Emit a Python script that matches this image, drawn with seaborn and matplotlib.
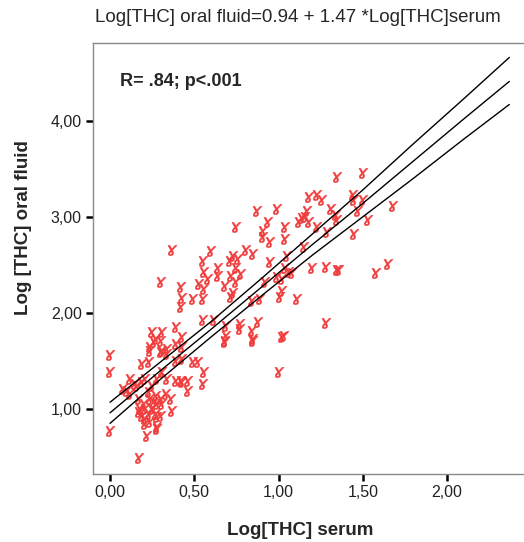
import numpy as np
import pandas as pd
import matplotlib
matplotlib.use('Agg')
import matplotlib.pyplot as plt
import seaborn as sns

# Valores (log THC serum vs log THC oral fluid)
serum = [0.00, 0.00, 0.00,
         0.17, 0.22, 0.28, 0.30, 0.37, 0.08, 0.12, 0.16, 0.19, 0.21, 0.19, 0.23,
         0.24, 0.25, 0.30, 0.31, 0.34, 0.39, 0.39, 0.43, 0.43, 0.49, 0.52, 0.56,
         0.55, 0.46, 0.43, 0.46, 0.42, 0.39, 0.34, 0.31, 0.28, 0.25, 0.23, 0.27,
         0.30, 0.28, 0.31, 0.26, 0.18, 0.19, 0.21, 0.23, 0.17, 0.21, 0.24, 0.28,
         0.28, 0.12, 0.10, 0.17, 0.68, 0.69, 0.77, 0.85, 1.02, 1.00, 0.26, 0.30,
         0.34, 0.24, 0.27, 0.21, 0.25, 0.33, 0.36, 0.24, 0.20, 0.27, 0.15,
         0.37, 0.60, 0.55, 0.71, 0.30, 0.42, 0.43, 0.49, 0.42, 0.56, 0.58, 0.64,
         0.64, 0.53, 0.56, 0.55, 0.68, 0.72, 0.72, 0.55, 0.62, 0.39, 0.31, 0.43,
         0.75, 0.81, 0.85, 0.73, 0.76, 0.75, 0.78, 0.75, 0.73, 0.77, 0.69, 0.84,
         0.85, 0.68, 0.84, 0.89, 0.88,
         0.87, 0.99, 0.94, 1.04, 0.91, 0.91, 0.95, 0.95, 1.04, 0.99, 1.02, 1.02,
         1.01, 1.03, 1.04, 1.05, 1.06, 1.11, 0.92, 1.28, 1.20, 1.28, 1.35, 1.36,
         1.08, 1.17, 1.16, 1.18, 1.12, 1.14, 1.18, 1.23, 1.26, 1.23, 1.15, 1.29,
         1.31, 1.34, 1.35, 1.35, 1.50, 1.44, 1.45, 1.50, 1.47, 1.53, 1.45, 1.68,
         1.65, 1.58]
oral_fluid = [1.56, 1.38, 0.77,
              0.49, 0.72, 0.81, 0.93, 0.98, 1.21, 1.31, 1.24, 1.28, 1.31, 1.47, 1.49,
              1.60, 1.80, 1.71, 1.60, 1.62, 1.68, 1.50, 1.65, 1.52, 1.49, 1.49, 1.39,
              1.26, 1.29, 1.28, 1.19, 1.29, 1.29, 1.31, 1.38, 1.31, 1.24, 1.18, 1.13,
              1.10, 1.05, 1.05, 1.07, 1.00, 0.93, 0.90, 0.95, 0.97, 0.84, 0.86, 0.92,
              0.79, 1.16, 1.19, 1.10, 1.70, 1.76, 1.83, 1.73, 1.75, 1.38, 1.70, 1.59,
              1.57, 1.65, 1.73, 1.00, 1.00, 1.16, 1.10, 1.10, 1.05, 0.95, 1.26,
              2.66, 2.64, 2.54, 2.54, 2.32, 2.27, 2.16, 2.14, 2.06, 2.43, 2.35, 2.47,
              2.38, 2.30, 2.25, 2.14, 2.28, 2.17, 2.38, 1.93, 1.93, 1.85, 1.80, 1.75,
              2.89, 2.66, 2.61, 2.59, 2.56, 2.47, 2.40, 2.32, 2.21, 1.88, 1.86, 1.81,
              1.71, 1.71, 2.12, 2.14, 1.91,
              3.06, 3.08, 2.95, 2.89, 2.85, 2.79, 2.74, 2.53, 2.47, 2.37, 2.35, 2.23,
              2.17, 1.76, 2.77, 2.59, 2.43, 2.14, 2.32, 1.90, 2.47, 2.48, 2.45, 2.45,
              2.42, 3.06, 3.00, 2.95, 2.95, 2.99, 3.21, 3.23, 3.18, 2.89, 2.69, 2.84,
              3.08, 3.02, 2.97, 3.41, 3.46, 3.23, 3.18, 3.18, 3.06, 2.97, 2.82, 3.11,
              2.51, 2.42]

# Recta de regresion y banda de confianza
band_x = [0.0, 0.3, 0.6, 0.9, 1.2, 1.5, 1.8, 2.1, 2.37]
fit_y = [0.96, 1.40, 1.83, 2.27, 2.71, 3.14, 3.58, 4.02, 4.41]
upper_y = [1.07, 1.49, 1.91, 2.36, 2.82, 3.28, 3.76, 4.23, 4.66]
lower_y = [0.85, 1.31, 1.75, 2.18, 2.60, 3.00, 3.40, 3.81, 4.17]

x_ticks = [0.0, 0.5, 1.0, 1.5, 2.0]
x_labels = ['0,00', '0,50', '1,00', '1,50', '2,00']
y_ticks = [1.0, 2.0, 3.0, 4.0]
y_labels = ['1,00', '2,00', '3,00', '4,00']

sns.set_style('white')
plt.rcParams['font.family'] = ['Liberation Sans', 'DejaVu Sans']

fig = plt.figure(figsize=(5.24, 5.42), dpi=100)
ax = fig.add_axes([93 / 524, 68 / 542, 431 / 524, 431 / 542])

df = pd.DataFrame({'serum': serum, 'oral': oral_fluid})
sns.scatterplot(data=df, x='serum', y='oral', marker='$ɤ$', color='#f03c3c',
                s=55, linewidth=0.3, edgecolor='#f03c3c', ax=ax, zorder=2)

for linea in [upper_y, fit_y, lower_y]:
    sns.lineplot(x=band_x, y=linea, color='black', linewidth=1.0, ax=ax, zorder=3)

ax.set_xlim(-0.101, 2.457)
ax.set_ylim(0.323, 4.81)
ax.set_xticks(x_ticks)
ax.set_xticklabels(x_labels, fontsize=11.5)
ax.set_yticks(y_ticks)
ax.set_yticklabels(y_labels, fontsize=11.5)
ax.tick_params(axis='both', direction='out', length=5, width=1.8, color='black',
               bottom=True, left=True, pad=3, labelcolor='#222222')

for lado in ['left', 'top', 'bottom']:
    ax.spines[lado].set_color('#8a8a8a')
    ax.spines[lado].set_linewidth(1.0)
ax.spines['right'].set_visible(False)

ax.set_xlabel('Log[THC] serum', fontsize=13.5, fontweight='bold')
ax.set_ylabel('Log [THC] oral fluid', fontsize=13.5, fontweight='bold')
ax.xaxis.set_label_coords(0.48, -0.112)
ax.yaxis.set_label_coords(-0.142, 0.571)

ax.text(0.06, 4.41, 'R= .84; p<.001', fontsize=13, fontweight='bold', va='center')
fig.text(298 / 524, 1 - 18 / 542, 'Log[THC] oral fluid=0.94 + 1.47 *Log[THC]serum',
         fontsize=13.5, ha='center', va='center')

plt.savefig('out.png', dpi=100)
